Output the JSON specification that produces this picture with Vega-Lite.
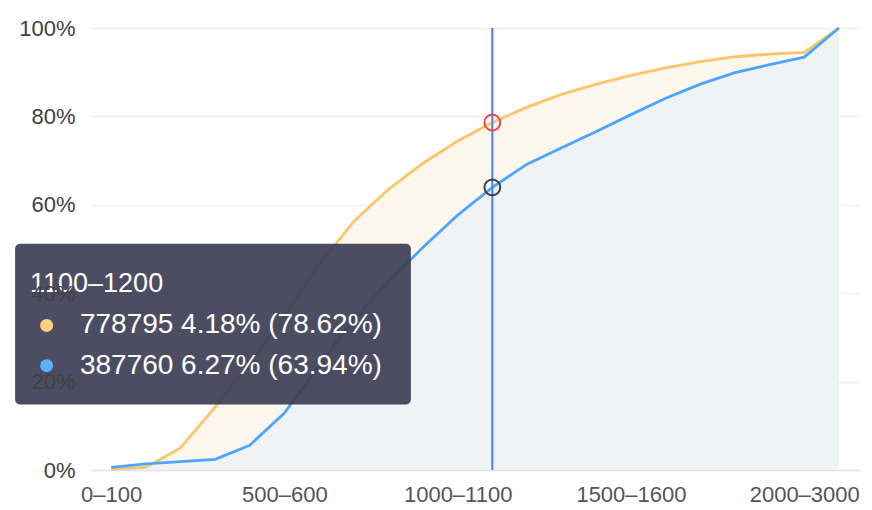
{
  "$schema": "https://vega.github.io/schema/vega-lite/v6.json",
  "description": "Cumulative share by range, two series, with a hover readout at 1100-1200",
  "width": 768,
  "height": 442,
  "autosize": "none",
  "padding": {"left": 91, "top": 28, "right": 13, "bottom": 40},
  "background": "#ffffff",
  "config": {
    "view": {"stroke": null},
    "font": "Liberation Sans"
  },
  "datasets": {
    "curves": [
      {"range": "0–100", "a": 0.2, "b": 0.6},
      {"range": "100–200", "a": 0.6, "b": 1.4},
      {"range": "200–300", "a": 5.0, "b": 1.9},
      {"range": "300–400", "a": 14.2, "b": 2.4},
      {"range": "400–500", "a": 24.2, "b": 5.6},
      {"range": "500–600", "a": 34.7, "b": 12.9},
      {"range": "600–700", "a": 46.5, "b": 23.6},
      {"range": "700–800", "a": 56.2, "b": 34.0},
      {"range": "800–900", "a": 63.5, "b": 42.5},
      {"range": "900–1000", "a": 69.4, "b": 50.4},
      {"range": "1000–1100", "a": 74.44, "b": 57.67},
      {"range": "1100–1200", "a": 78.62, "b": 63.94},
      {"range": "1200–1300", "a": 82.1, "b": 69.2},
      {"range": "1300–1400", "a": 85.0, "b": 72.9},
      {"range": "1400–1500", "a": 87.3, "b": 76.6},
      {"range": "1500–1600", "a": 89.3, "b": 80.4},
      {"range": "1600–1700", "a": 91.0, "b": 84.1},
      {"range": "1700–1800", "a": 92.4, "b": 87.3},
      {"range": "1800–1900", "a": 93.5, "b": 89.9},
      {"range": "1900–2000", "a": 94.1, "b": 91.7},
      {"range": "2000–3000", "a": 94.5, "b": 93.4},
      {"range": "3000+", "a": 100, "b": 100}
    ],
    "tip": [
      {"series": "A", "label": "778795 4.18% (78.62%)"},
      {"series": "B", "label": "387760 6.27% (63.94%)"}
    ]
  },
  "layer": [
    {
      "data": {"name": "curves"},
      "layer": [
        {
          "mark": {"type": "area", "color": "#fef7ed"},
          "encoding": {
            "x": {
              "field": "range",
              "type": "ordinal",
              "sort": null,
              "scale": {
                "type": "point",
                "padding": 0.58,
                "domain": ["0–100", "100–200", "200–300", "300–400", "400–500", "500–600", "600–700", "700–800", "800–900", "900–1000", "1000–1100", "1100–1200", "1200–1300", "1300–1400", "1400–1500", "1500–1600", "1600–1700", "1700–1800", "1800–1900", "1900–2000", "2000–3000", "3000+"]
              },
              "axis": {
                "title": null,
                "values": ["0–100", "500–600", "1000–1100", "1500–1600", "2000–3000"],
                "labelAngle": 0,
                "labelFontSize": 22,
                "labelColor": "#555555",
                "labelPadding": 14,
                "ticks": false,
                "grid": false,
                "domainColor": "#e3e3e3",
                "domainWidth": 1.5
              }
            },
            "y": {
              "field": "a",
              "type": "quantitative",
              "stack": null,
              "scale": {"domain": [0, 100], "nice": false},
              "axis": {
                "orient": "right",
                "title": null,
                "values": [0, 20, 40, 60, 80, 100],
                "labels": false,
                "ticks": false,
                "domain": false,
                "grid": true,
                "gridColor": "#efefef",
                "gridWidth": 1.5
              }
            }
          }
        },
        {
          "mark": {"type": "area", "color": "#eff3f4"},
          "encoding": {
            "x": {"field": "range", "type": "ordinal", "sort": null},
            "y": {"field": "b", "type": "quantitative", "stack": null}
          }
        },
        {
          "mark": {"type": "line", "color": "#fec568", "strokeWidth": 2.8},
          "encoding": {
            "x": {"field": "range", "type": "ordinal", "sort": null},
            "y": {"field": "a", "type": "quantitative"}
          }
        },
        {
          "mark": {"type": "line", "color": "#4ea5ff", "strokeWidth": 2.8},
          "encoding": {
            "x": {"field": "range", "type": "ordinal", "sort": null},
            "y": {"field": "b", "type": "quantitative"}
          }
        },
        {
          "transform": [{"filter": "datum.range == '1100–1200'"}],
          "mark": {"type": "rule", "color": "#4a7ef2", "strokeWidth": 2},
          "encoding": {
            "x": {"field": "range", "type": "ordinal", "sort": null}
          }
        },
        {
          "transform": [{"filter": "datum.range == '1100–1200'"}],
          "mark": {"type": "point", "shape": "circle", "filled": false, "color": "#e8474b", "strokeWidth": 2, "size": 250, "opacity": 1},
          "encoding": {
            "x": {"field": "range", "type": "ordinal", "sort": null},
            "y": {"field": "a", "type": "quantitative"}
          }
        },
        {
          "transform": [{"filter": "datum.range == '1100–1200'"}],
          "mark": {"type": "point", "shape": "circle", "filled": false, "color": "#3c4651", "strokeWidth": 2, "size": 250, "opacity": 1},
          "encoding": {
            "x": {"field": "range", "type": "ordinal", "sort": null},
            "y": {"field": "b", "type": "quantitative"}
          }
        }
      ]
    },
    {
      "data": {"name": "tip"},
      "layer": [
        {
          "transform": [{"filter": "datum.series == 'A'"}],
          "mark": {"type": "rect", "color": "#3d3e55", "opacity": 0.92, "cornerRadius": 5},
          "encoding": {
            "x": {"datum": -2.77, "type": "quantitative", "scale": {"domain": [-0.58, 21.58], "nice": false, "zero": false}, "axis": null},
            "x2": {"datum": 8.65},
            "y": {
              "datum": 14.8,
              "type": "quantitative",
              "axis": {
                "orient": "left",
                "title": null,
                "values": [0, 20, 40, 60, 80, 100],
                "labelExpr": "datum.value + '%'",
                "labelFontSize": 22,
                "labelColor": "#404040",
                "labelPadding": 16,
                "ticks": false,
                "domain": false,
                "grid": false,
                "zindex": 1
              }
            },
            "y2": {"datum": 51.2}
          }
        },
        {
          "transform": [{"filter": "datum.series == 'A'"}],
          "mark": {"type": "text", "text": "1100–1200", "align": "left", "baseline": "middle", "fontSize": 27, "color": "#ffffff"},
          "encoding": {
            "x": {"datum": -2.34, "type": "quantitative"},
            "y": {"datum": 42.0, "type": "quantitative"}
          }
        },
        {
          "transform": [{"filter": "datum.series == 'A'"}],
          "layer": [
            {
              "mark": {"type": "point", "shape": "circle", "filled": true, "color": "#fdd17c", "size": 170, "opacity": 1},
              "encoding": {
                "x": {"datum": -1.86, "type": "quantitative"},
                "y": {"datum": 32.7, "type": "quantitative"}
              }
            },
            {
              "mark": {"type": "text", "align": "left", "baseline": "middle", "fontSize": 28, "color": "#ffffff"},
              "encoding": {
                "x": {"datum": -0.9, "type": "quantitative"},
                "y": {"datum": 32.7, "type": "quantitative"},
                "text": {"field": "label"}
              }
            }
          ]
        },
        {
          "transform": [{"filter": "datum.series == 'B'"}],
          "layer": [
            {
              "mark": {"type": "point", "shape": "circle", "filled": true, "color": "#5cb1fb", "size": 170, "opacity": 1},
              "encoding": {
                "x": {"datum": -1.86, "type": "quantitative"},
                "y": {"datum": 23.6, "type": "quantitative"}
              }
            },
            {
              "mark": {"type": "text", "align": "left", "baseline": "middle", "fontSize": 28, "color": "#ffffff"},
              "encoding": {
                "x": {"datum": -0.9, "type": "quantitative"},
                "y": {"datum": 23.6, "type": "quantitative"},
                "text": {"field": "label"}
              }
            }
          ]
        }
      ]
    }
  ],
  "resolve": {"scale": {"x": "independent"}, "axis": {"y": "independent"}}
}
